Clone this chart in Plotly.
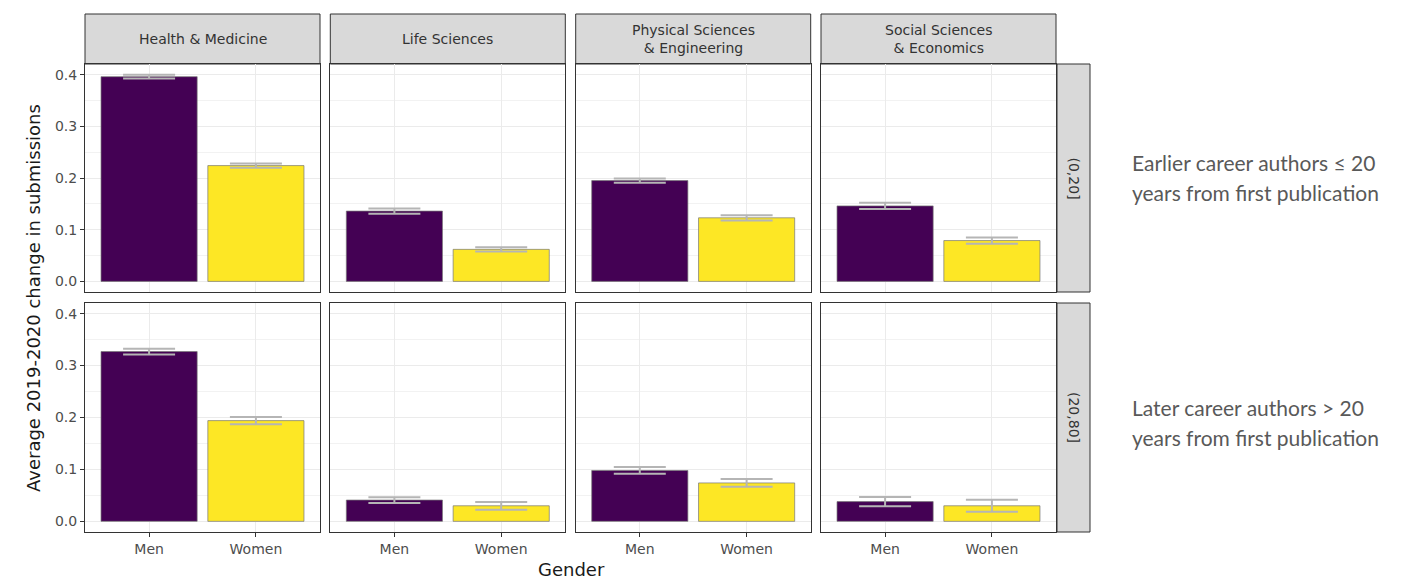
import plotly.graph_objects as go

# ---------------- data ----------------
fields = ["Health & Medicine", "Life Sciences",
          "Physical Sciences<br>& Engineering", "Social Sciences<br>& Economics"]
genders = ["Men", "Women"]
career_groups = ["(0,20]", "(20,80]"]

men_early = [0.396, 0.136, 0.195, 0.146]
women_early = [0.224, 0.062, 0.123, 0.079]
men_early_err = [0.0035, 0.005, 0.004, 0.006]
women_early_err = [0.004, 0.004, 0.005, 0.006]

men_late = [0.327, 0.041, 0.098, 0.038]
women_late = [0.194, 0.030, 0.074, 0.030]
men_late_err = [0.0055, 0.0055, 0.0065, 0.009]
women_late_err = [0.007, 0.0075, 0.0075, 0.0115]

y_ticks = [0.0, 0.1, 0.2, 0.3, 0.4]
y_tick_text = ["0.0", "0.1", "0.2", "0.3", "0.4"]

side_notes = [["Earlier career authors \u2264 20", "years from first publication"],
              ["Later career authors > 20", "years from first publication"]]

# ---------------- style / layout ----------------
OFF = 8                      # default page body margin
W, H = 1414 - OFF, 581 - OFF
PURPLE, YELLOW = "#440154", "#FDE725"
FONT = "DejaVu Sans"

col_left = [85, 330.3, 575.7, 821.0]
col_w = 235
row_top = [64, 303]
row_bot = [292, 532]
strip_top = 14
strip_right = (1057, 1090)


def px_x(p):
    return (p - OFF) / W


def px_y(p):
    return 1 - (p - OFF) / H


fig = go.Figure()
layout = dict(
    width=W, height=H, autosize=False,
    margin=dict(l=0, r=0, t=0, b=0),
    paper_bgcolor="white", plot_bgcolor="white",
    showlegend=False,
    shapes=[], annotations=[],
)

rows = [(men_early, women_early, men_early_err, women_early_err),
        (men_late, women_late, men_late_err, women_late_err)]

idx = 0
for r in range(2):
    m_vals, w_vals, m_err, w_err = rows[r]
    for c in range(4):
        idx += 1
        xa = "x" if idx == 1 else f"x{idx}"
        ya = "y" if idx == 1 else f"y{idx}"
        fig.add_trace(go.Bar(
            x=genders, y=[m_vals[c], w_vals[c]],
            xaxis=xa, yaxis=ya, width=0.9,
            marker=dict(color=[PURPLE, YELLOW],
                        line=dict(color="rgba(120,120,120,0.7)", width=1)),
            error_y=dict(type="data", array=[m_err[c], w_err[c]],
                         color="#b5b5b5", thickness=2, width=26),
            hoverinfo="x+y",
        ))
        xkey = "xaxis" if idx == 1 else f"xaxis{idx}"
        ykey = "yaxis" if idx == 1 else f"yaxis{idx}"
        layout[xkey] = dict(
            domain=[px_x(col_left[c]), px_x(col_left[c] + col_w)],
            anchor=ya, type="category", range=[-0.6, 1.6],
            showline=True, mirror=True, linecolor="#333333", linewidth=1,
            showgrid=True, gridcolor="#ebebeb", gridwidth=1,
            zeroline=False,
            ticks="outside" if r == 1 else "", ticklen=4, tickcolor="#333333",
            showticklabels=(r == 1),
            tickfont=dict(family=FONT, size=14, color="#4d4d4d"),
            ticklabelstandoff=0,
            fixedrange=True,
        )
        layout[ykey] = dict(
            domain=[px_y(row_bot[r]), px_y(row_top[r])],
            anchor=xa, range=[-0.0205, 0.4205],
            tickvals=y_ticks, ticktext=y_tick_text,
            showline=True, mirror=True, linecolor="#333333", linewidth=1,
            showgrid=True, gridcolor="#ebebeb", gridwidth=1,
            minor=dict(dtick=0.05, tick0=0, showgrid=True,
                       gridcolor="#f2f2f2", gridwidth=0.7, ticks=""),
            zeroline=False,
            ticks="outside" if c == 0 else "", ticklen=4, tickcolor="#333333",
            showticklabels=(c == 0),
            tickfont=dict(family=FONT, size=14, color="#4d4d4d"),
            fixedrange=True,
        )

# top strips
for c in range(4):
    layout["shapes"].append(dict(
        type="rect", xref="paper", yref="paper",
        x0=px_x(col_left[c]), x1=px_x(col_left[c] + col_w),
        y0=px_y(row_top[0]), y1=px_y(strip_top),
        fillcolor="#d9d9d9", line=dict(color="#333333", width=1), layer="below"))
    layout["annotations"].append(dict(
        xref="paper", yref="paper",
        x=px_x(col_left[c] + col_w / 2), y=px_y((strip_top + row_top[0]) / 2),
        text=fields[c], showarrow=False, xanchor="center", yanchor="middle",
        font=dict(family=FONT, size=14, color="#333333")))

# right strips
for r in range(2):
    layout["shapes"].append(dict(
        type="rect", xref="paper", yref="paper",
        x0=px_x(strip_right[0]), x1=px_x(strip_right[1]),
        y0=px_y(row_bot[r]), y1=px_y(row_top[r]),
        fillcolor="#d9d9d9", line=dict(color="#333333", width=1), layer="below"))
    layout["annotations"].append(dict(
        xref="paper", yref="paper",
        x=px_x(sum(strip_right) / 2), y=px_y((row_top[r] + row_bot[r]) / 2),
        text=career_groups[r], showarrow=False, textangle=90,
        xanchor="center", yanchor="middle",
        font=dict(family=FONT, size=14, color="#333333")))

# axis titles
layout["annotations"].append(dict(
    xref="paper", yref="paper", x=px_x(33), y=px_y(298),
    text="Average 2019-2020 change in submissions", showarrow=False,
    textangle=-90, xanchor="center", yanchor="middle",
    font=dict(family=FONT, size=18, color="#1a1a1a")))
layout["annotations"].append(dict(
    xref="paper", yref="paper", x=px_x(571), y=px_y(569),
    text="Gender", showarrow=False, xanchor="center", yanchor="middle",
    font=dict(family=FONT, size=18, color="#1a1a1a")))

# side notes
note_y = [(162, 192), (407, 437)]
for r in range(2):
    for k in range(2):
        layout["annotations"].append(dict(
            xref="paper", yref="paper", x=px_x(1130), y=px_y(note_y[r][k]),
            text=side_notes[r][k], showarrow=False,
            xanchor="left", yanchor="middle",
            font=dict(family="Lato", size=21, color="#595959")))

fig.update_layout(**layout)
fig.write_html("out.html")
